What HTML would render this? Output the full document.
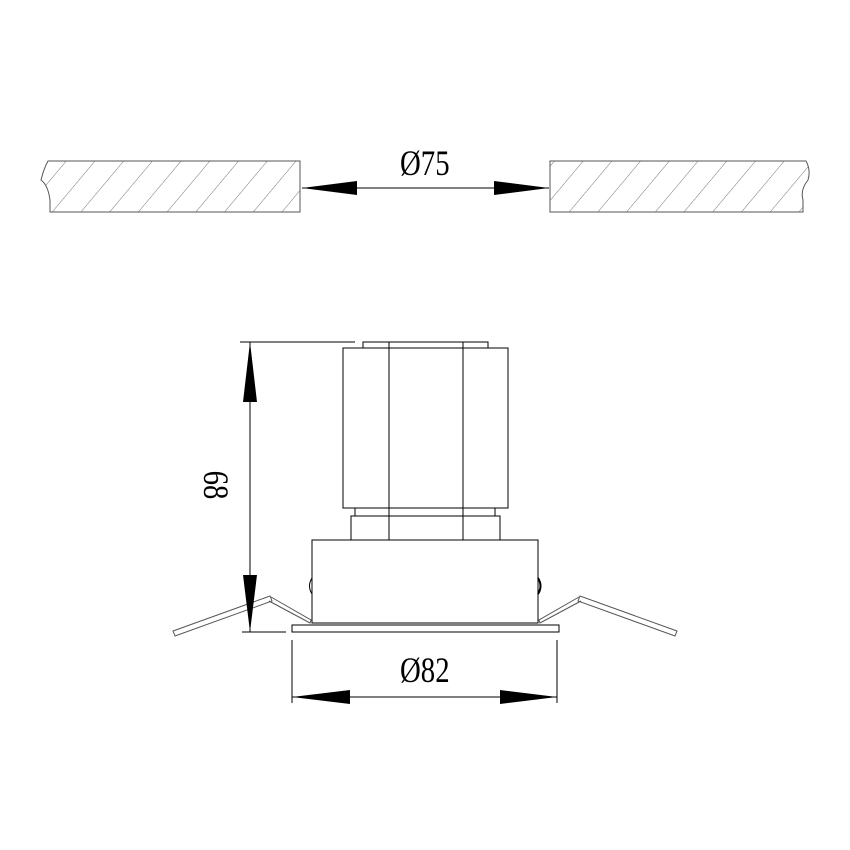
<!DOCTYPE html>
<html><head><style>body{margin:0;background:#fff}svg{display:block}</style></head><body>
<svg width="850" height="850" viewBox="0 0 850 850" xmlns="http://www.w3.org/2000/svg">
<defs>
<pattern id="h" patternUnits="userSpaceOnUse" width="22" height="22" patternTransform="rotate(40)">
<line x1="0" y1="0" x2="0" y2="22" stroke="#777" stroke-width="1"/>
</pattern>
</defs>
<g stroke="#555" stroke-width="1" fill="none">
<path d="M48,161 L300,161 L300,212 L50,212 L50,200 Q48,185 41,180 Q44,168 48,161Z" fill="url(#h)"/>
<path d="M550,161 L806,161 Q811,170 808,180 Q800,190 803,200 L803,212 L550,212Z" fill="url(#h)"/>
</g>
<g stroke="#000" stroke-width="1" fill="none">
<line x1="302" y1="188" x2="549" y2="188"/>
<rect x="363" y="342" width="125" height="6"/>
<rect x="343" y="348" width="165" height="160"/>
<line x1="389" y1="342" x2="389" y2="540"/>
<line x1="463" y1="342" x2="463" y2="540"/>
<rect x="355" y="508" width="140" height="8"/>
<rect x="351" y="516" width="149" height="24"/>
<rect x="312" y="540" width="226" height="83"/>
<rect x="292" y="625" width="267" height="7"/>
<path d="M312,578 Q307,586 312,594"/>
<path d="M538,578 Q543,586 538,594" stroke-width="2"/>
<line x1="240" y1="342" x2="355" y2="342"/>
<line x1="250" y1="342" x2="250" y2="632"/>
<line x1="242" y1="632" x2="286" y2="632"/>
<line x1="292" y1="640" x2="292" y2="703"/>
<line x1="557" y1="640" x2="557" y2="703"/>
<line x1="292" y1="697" x2="557" y2="697"/>
</g>
<g stroke="#555" stroke-width="1" fill="none">
<path d="M173,631 L270,596 L272,601 L175,636Z"/>
<path d="M271,597 L311,620 L310,623 L269,601"/>
<path d="M677,631 L580,596 L578,601 L675,636Z"/>
<path d="M579,597 L539,620 L540,623 L581,601"/>
</g>
<g fill="#000">
<polygon points="302,188 357,181 357,195"/>
<polygon points="549,188 494,181 494,195"/>
<polygon points="250,342 243,402 257,402"/>
<polygon points="250,632 243,575 257,575"/>
<polygon points="292,697 350,690 350,704"/>
<polygon points="557,697 500,690 500,704"/>
</g>
<g font-family="Liberation Serif, serif" font-size="36" fill="#000" text-anchor="middle">
<text x="425" y="175" transform="scale(0.8,1) translate(106,0)">Ø75</text>
<text x="425" y="682" transform="scale(0.8,1) translate(106,0)">Ø82</text>
<text x="0" y="0" transform="translate(204,485) rotate(90) scale(0.8,1)">68</text>
</g>
</svg>
</body></html>
